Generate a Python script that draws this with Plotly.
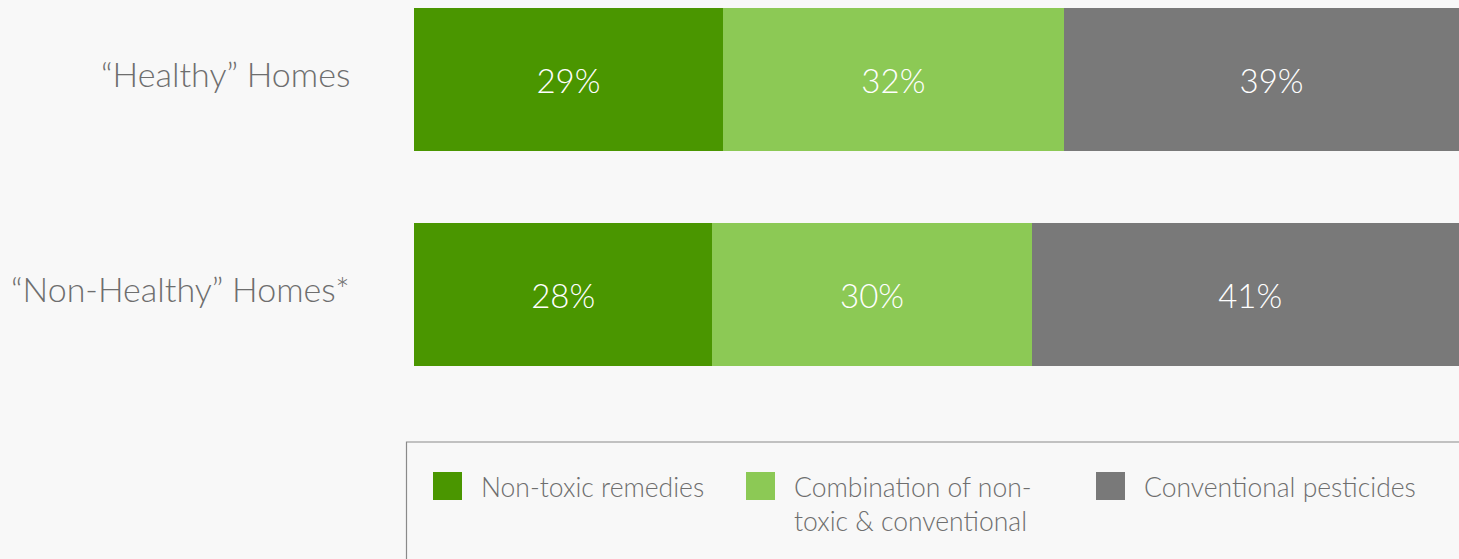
import plotly.graph_objects as go

categories = ["“Healthy” Homes", "“Non-Healthy” Homes*"]
series_names = ["Non-toxic remedies", "Combination of non-toxic & conventional", "Conventional pesticides"]
legend_labels = ["Non-toxic remedies", "Combination of non-<br>toxic & conventional", "Conventional pesticides"]
non_toxic = [29, 28]
combination = [32, 30]
conventional = [39, 41]
colors = ["#4a9600", "#8cc955", "#797979"]

values = [non_toxic, combination, conventional]

BG = "#f8f8f8"
TEXT = "#6e6e6e"
FONT = "Lato"

fig = go.Figure()
for name, vals, col in zip(series_names, values, colors):
    fig.add_trace(go.Bar(
        y=categories, x=vals, name=name, orientation="h",
        marker=dict(color=col, line=dict(width=0)),
        width=0.665,
        text=[f"{v}%" for v in vals],
        textposition="inside", insidetextanchor="middle",
        textfont=dict(family=FONT, size=33, color="white", weight=300),
        constraintext="none",
        showlegend=False,
    ))

plot_left = 414
plot_w = 1045
plot_h = 430
def px_x(p):
    return (p - plot_left) / plot_w
def px_y(p):
    return (plot_h - p) / plot_h

# category labels
for cat in categories:
    fig.add_annotation(xref="paper", yref="y", x=px_x(352), y=cat, yshift=6,
                       text=cat, showarrow=False, xanchor="right", yanchor="middle",
                       font=dict(family=FONT, size=34, color=TEXT, weight=300))

# legend box (custom drawn)
fig.add_shape(type="rect", xref="paper", yref="paper",
              x0=px_x(406.5), x1=1.2, y0=-0.6, y1=px_y(442),
              line=dict(color="#8a8a8a", width=1.2), fillcolor="rgba(0,0,0,0)")

sq_x = [433, 746, 1096]
for sx, col, lab in zip(sq_x, colors, legend_labels):
    fig.add_shape(type="rect", xref="paper", yref="paper",
                  x0=px_x(sx), x1=px_x(sx + 29), y0=px_y(500), y1=px_y(472),
                  line=dict(width=0), fillcolor=col)
    fig.add_annotation(xref="paper", yref="paper", x=px_x(sx + 46), y=px_y(469),
                       text=lab, showarrow=False, xanchor="left", yanchor="top",
                       align="left",
                       font=dict(family=FONT, size=26.5, color=TEXT, weight=300))

fig.update_layout(
    width=1459, height=559,
    margin=dict(l=414, r=0, t=0, b=129),
    paper_bgcolor=BG, plot_bgcolor=BG,
    barmode="stack",
    xaxis=dict(range=[0, 98.1], visible=False, showgrid=False, zeroline=False),
    yaxis=dict(range=[1.628, -0.37], showgrid=False, zeroline=False, showline=False,
               ticks="", showticklabels=False),
)

fig.write_html("out.html", config={"displayModeBar": False},
               post_script="document.body.style.margin='0';document.body.style.padding='0';document.body.style.overflow='hidden';")
